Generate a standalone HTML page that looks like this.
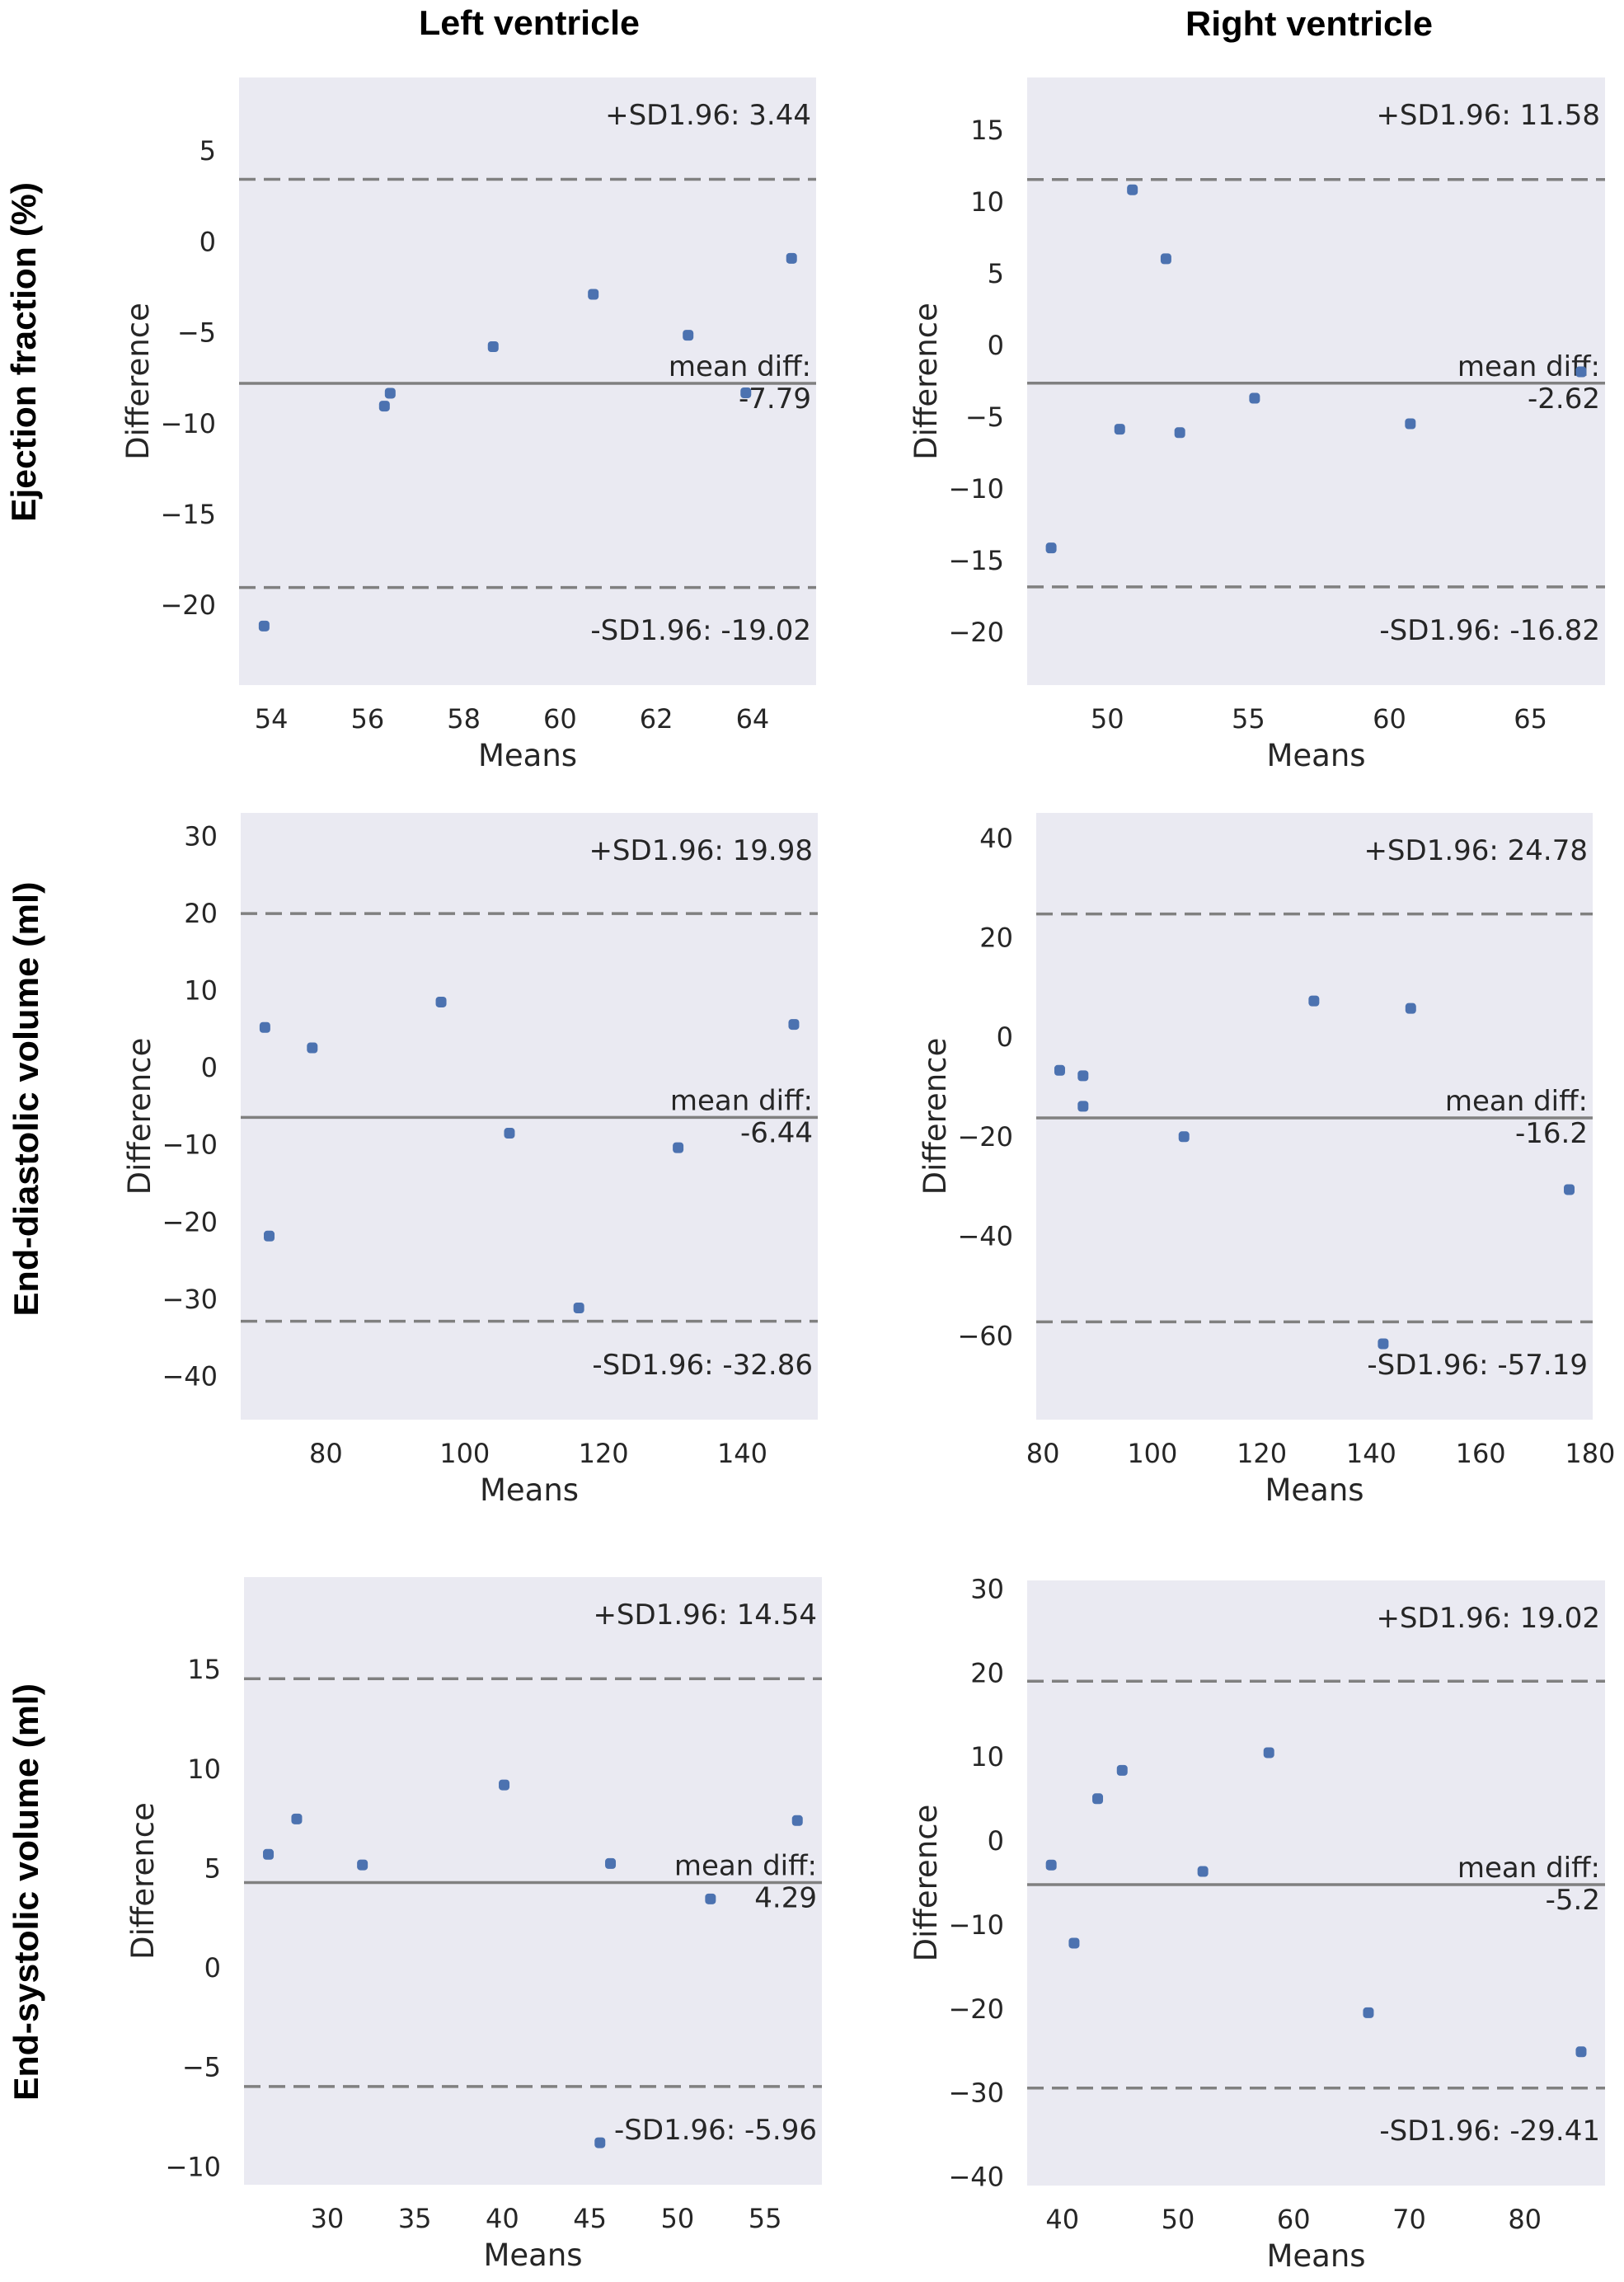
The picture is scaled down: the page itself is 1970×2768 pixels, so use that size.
<!DOCTYPE html>
<html><head><meta charset="utf-8"><style>
html,body{margin:0;padding:0;background:#fff;}
svg{display:block;}
</style></head><body>
<svg id="fig" width="1970" height="2768" viewBox="0 0 1970 2768" xmlns="http://www.w3.org/2000/svg">
<text x="642" y="42" text-anchor="middle" textLength="268" lengthAdjust="spacingAndGlyphs" font-family="Liberation Sans, sans-serif" font-weight="bold" font-size="42" fill="#000">Left ventricle</text>
<text x="1588" y="43" text-anchor="middle" textLength="300" lengthAdjust="spacingAndGlyphs" font-family="Liberation Sans, sans-serif" font-weight="bold" font-size="42" fill="#000">Right ventricle</text>
<text transform="translate(43,427) rotate(-90)" text-anchor="middle" textLength="412" lengthAdjust="spacingAndGlyphs" font-family="Liberation Sans, sans-serif" font-weight="bold" font-size="42" fill="#000">Ejection fraction (%)</text>
<text transform="translate(46,1333) rotate(-90)" text-anchor="middle" textLength="527" lengthAdjust="spacingAndGlyphs" font-family="Liberation Sans, sans-serif" font-weight="bold" font-size="42" fill="#000">End-diastolic volume (ml)</text>
<text transform="translate(46,2295) rotate(-90)" text-anchor="middle" textLength="506" lengthAdjust="spacingAndGlyphs" font-family="Liberation Sans, sans-serif" font-weight="bold" font-size="42" fill="#000">End-systolic volume (ml)</text>
</svg>
<script>
// ---- data: panel 1 (LV ejection fraction)
const p1Means = [53.85, 56.35, 56.47, 58.61, 60.69, 62.66, 63.86, 64.81];
const p1Diffs = [-21.14, -9.04, -8.33, -5.77, -2.89, -5.14, -8.31, -0.91];
const p1Limits = [3.44, -7.79, -19.02];
const p1XTicks = [54, 56, 58, 60, 62, 64];
const p1YTicks = [5, 0, -5, -10, -15, -20];
// ---- data: panel 2 (RV ejection fraction)
const p2Means = [48.01, 50.44, 50.89, 52.08, 52.57, 55.22, 60.74, 66.79];
const p2Diffs = [-14.11, -5.83, 10.86, 6.05, -6.07, -3.67, -5.45, -1.83];
const p2Limits = [11.58, -2.62, -16.82];
const p2XTicks = [50, 55, 60, 65];
const p2YTicks = [15, 10, 5, 0, -5, -10, -15, -20];
// ---- data: panel 3 (LV end-diastolic volume)
const p3Means = [71.21, 71.82, 78.03, 96.59, 106.44, 116.44, 130.75, 147.42];
const p3Diffs = [5.22, -21.82, 2.57, 8.51, -8.49, -31.14, -10.37, 5.61];
const p3Limits = [19.98, -6.44, -32.86];
const p3XTicks = [80, 100, 120, 140];
const p3YTicks = [30, 20, 10, 0, -10, -20, -30, -40];
// ---- data: panel 4 (RV end-diastolic volume)
const p4Means = [83.07, 87.34, 87.34, 105.78, 129.53, 147.22, 142.19, 176.18];
const p4Diffs = [-6.64, -7.73, -13.86, -19.98, 7.31, 5.81, -61.6, -30.61];
const p4Limits = [24.78, -16.2, -57.19];
const p4XTicks = [80, 100, 120, 140, 160, 180];
const p4YTicks = [40, 20, 0, -20, -40, -60];
// ---- data: panel 5 (LV end-systolic volume)
const p5Means = [26.64, 28.26, 32.01, 40.10, 46.17, 45.57, 51.88, 56.84];
const p5Diffs = [5.71, 7.49, 5.18, 9.20, 5.25, -8.79, 3.47, 7.41];
const p5Limits = [14.54, 4.29, -5.96];
const p5XTicks = [30, 35, 40, 45, 50, 55];
const p5YTicks = [15, 10, 5, 0, -5, -10];
// ---- data: panel 6 (RV end-systolic volume)
const p6Means = [39.03, 41.01, 43.05, 45.17, 52.15, 57.86, 66.47, 84.87];
const p6Diffs = [-2.86, -12.16, 5.03, 8.41, -3.63, 10.51, -20.45, -25.1];
const p6Limits = [19.02, -5.2, -29.41];
const p6XTicks = [40, 50, 60, 70, 80];
const p6YTicks = [30, 20, 10, 0, -10, -20, -30, -40];

// ---- layout (pixel frames + axis domains)
const layouts = [
  {id:'lv-ef', L:290, R:990, T:94, B:831, x0:53.33, x1:65.32, y0:-24.39, y1:9.04, means:p1Means, diffs:p1Diffs, lim:p1Limits, xt:p1XTicks, yt:p1YTicks},
  {id:'rv-ef', L:1246, R:1947, T:94, B:831, x0:47.16, x1:67.64, y0:-23.67, y1:18.69, means:p2Means, diffs:p2Diffs, lim:p2Limits, xt:p2XTicks, yt:p2YTicks},
  {id:'lv-edv', L:292, R:992, T:986, B:1722, x0:67.72, x1:150.87, y0:-45.62, y1:33.03, means:p3Means, diffs:p3Diffs, lim:p3Limits, xt:p3XTicks, yt:p3YTicks},
  {id:'rv-edv', L:1257, R:1932, T:986, B:1722, x0:78.78, x1:180.47, y0:-76.85, y1:45.11, means:p4Means, diffs:p4Diffs, lim:p4Limits, xt:p4XTicks, yt:p4YTicks},
  {id:'lv-esv', L:296, R:997, T:1913, B:2650, x0:25.25, x1:58.24, y0:-10.9, y1:19.65, means:p5Means, diffs:p5Diffs, lim:p5Limits, xt:p5XTicks, yt:p5YTicks},
  {id:'rv-esv', L:1246, R:1947, T:1917, B:2651, x0:36.95, x1:86.94, y0:-41.02, y1:31.02, means:p6Means, diffs:p6Diffs, lim:p6Limits, xt:p6XTicks, yt:p6YTicks}
];

const NS = 'http://www.w3.org/2000/svg';
const svg = document.getElementById('fig');
const FONT = '"DejaVu Sans", "Liberation Sans", sans-serif';
function mk(tag, attrs, parent){
  const e = document.createElementNS(NS, tag);
  for (const k in attrs) e.setAttribute(k, attrs[k]);
  parent.appendChild(e);
  return e;
}
function fmtTick(v){ return v < 0 ? '\u2212' + Math.abs(v) : String(v); }

layouts.forEach(p => {
  const g = mk('g', {}, svg);
  
  
  const sx = v => p.L + (v - p.x0) / (p.x1 - p.x0) * (p.R - p.L);
  const sy = v => p.B - (v - p.y0) / (p.y1 - p.y0) * (p.B - p.T);

  const bg = mk('rect', {x:p.L, y:p.T, width:p.R-p.L, height:p.B-p.T, fill:'#eaeaf2'}, g);
  
  

  p.yt.forEach(v => {
    const t = mk('text', {x:p.L-28, y:sy(v), 'text-anchor':'end', 'dominant-baseline':'central', 'font-family':FONT, 'font-size':32, fill:'#262626'}, g);
    t.textContent = fmtTick(v);
    
    
  });
  p.xt.forEach(v => {
    const t = mk('text', {x:sx(v), y:p.B+52, 'text-anchor':'middle', 'font-family':FONT, 'font-size':32, fill:'#262626'}, g);
    t.textContent = fmtTick(v);
    
    
  });
  const xl = mk('text', {x:(p.L+p.R)/2, y:p.B+98, 'text-anchor':'middle', 'font-family':FONT, 'font-size':37, fill:'#262626'}, g);
  xl.textContent = 'Means';
  
  
  const yl = mk('text', {transform:'translate(' + (p.L-110) + ',' + ((p.T+p.B)/2) + ') rotate(-90)', 'text-anchor':'middle', 'font-family':FONT, 'font-size':37, fill:'#262626'}, g);
  yl.textContent = 'Difference';
  
  

  const up = mk('line', {x1:p.L, x2:p.R, y1:sy(p.lim[0]), y2:sy(p.lim[0]), stroke:'#808080', 'stroke-width':3.5, 'stroke-dasharray':'20 10'}, g);
  
  
  const md = mk('line', {x1:p.L, x2:p.R, y1:sy(p.lim[1]), y2:sy(p.lim[1]), stroke:'#808080', 'stroke-width':3.5}, g);
  
  
  const lo = mk('line', {x1:p.L, x2:p.R, y1:sy(p.lim[2]), y2:sy(p.lim[2]), stroke:'#808080', 'stroke-width':3.5, 'stroke-dasharray':'20 10'}, g);
  
  

  const ax = p.R - 6;
  const a1 = mk('text', {x:ax, y:p.T+57, 'text-anchor':'end', 'font-family':FONT, 'font-size':34, fill:'#262626'}, g);
  a1.textContent = '+SD1.96: ' + p.lim[0];
  
  
  const a2 = mk('text', {x:ax, y:sy(p.lim[1])-9, 'text-anchor':'end', 'font-family':FONT, 'font-size':34, fill:'#262626'}, g);
  a2.textContent = 'mean diff:';
  
  
  const a3 = mk('text', {x:ax, y:sy(p.lim[1])+30, 'text-anchor':'end', 'font-family':FONT, 'font-size':34, fill:'#262626'}, g);
  a3.textContent = String(p.lim[1]);
  
  
  const a4 = mk('text', {x:ax, y:p.B-55, 'text-anchor':'end', 'font-family':FONT, 'font-size':34, fill:'#262626'}, g);
  a4.textContent = '-SD1.96: ' + p.lim[2];
  
  

  p.means.forEach((m, i) => {
    const r = mk('rect', {x:sx(m)-6.5, y:sy(p.diffs[i])-6.5, width:13, height:13, rx:4, fill:'#4c72b0'}, g);
    
    
  });
});
</script>
</body></html>
